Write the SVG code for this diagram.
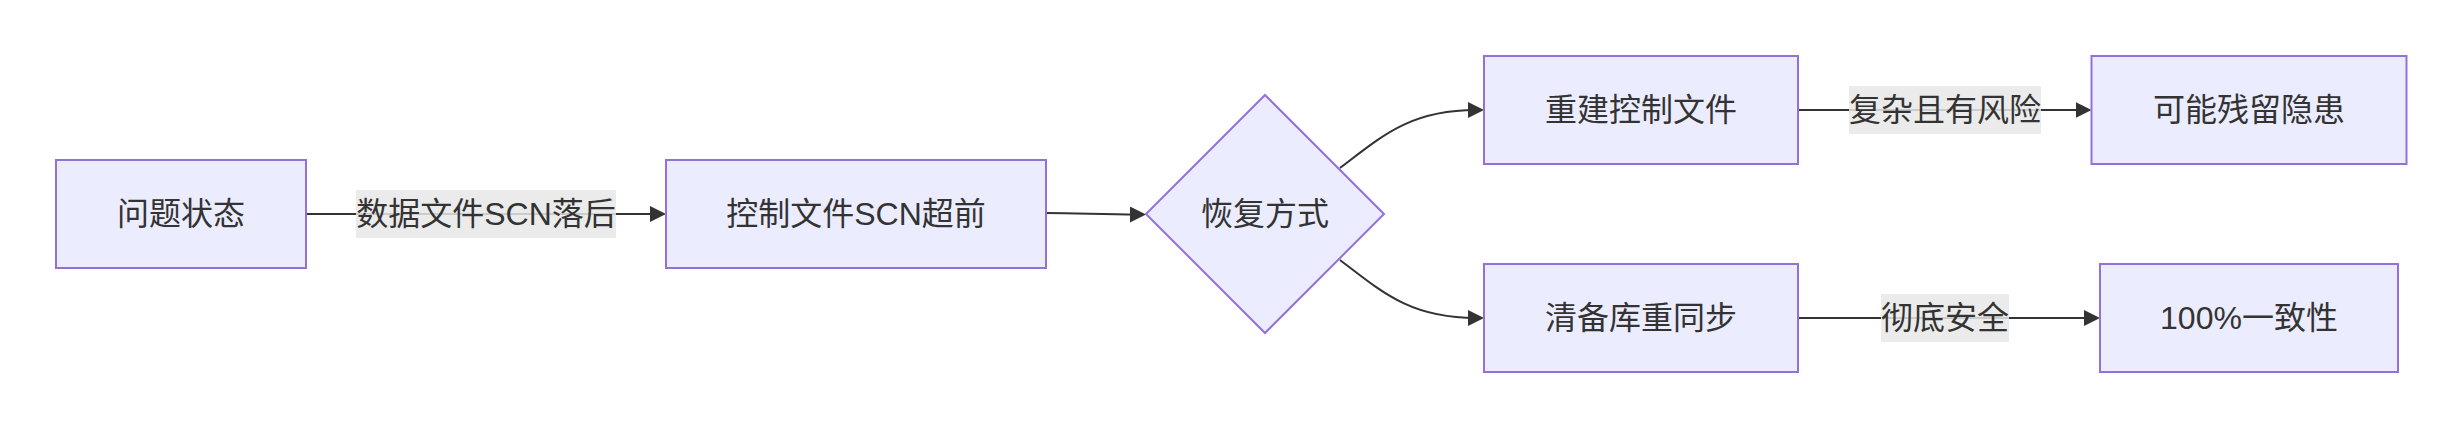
<svg xmlns="http://www.w3.org/2000/svg" width="2462" height="428" viewBox="0 0 2462 428">
  <style>
    .node rect, .node polygon { fill: #ECECFF; stroke: #9370DB; stroke-width: 2; }
    text { font-family: "Liberation Sans", "Noto Sans CJK SC", sans-serif; font-size: 32px; fill: #333333; text-anchor: middle; dominant-baseline: central; }
    .edge { fill: none; stroke: #333333; stroke-width: 2; marker-end: url(#arrow); }
    .lblbg { fill: #e8e8e8; fill-opacity: 0.85; }
  </style>
  <defs>
    <marker id="arrow" viewBox="0 0 10 10" refX="5" refY="5" markerUnits="userSpaceOnUse" markerWidth="16" markerHeight="16" orient="auto">
      <path d="M0,0 L10,5 L0,10 z" fill="#333333"/>
    </marker>
  </defs>
  <rect x="0" y="0" width="2462" height="428" fill="#ffffff"/>

  <g id="connectors">
    <path class="edge" d="M306,214 L658,214"/>
    <path class="edge" d="M1046,213 C1080,213 1100,214.5 1138,214.5"/>
    <path class="edge" d="M1340,168 C1382,136 1410,110 1476,110"/>
    <path class="edge" d="M1340,260 C1382,292 1410,318 1476,318"/>
    <path class="edge" d="M1798,110 L2083.5,110"/>
    <path class="edge" d="M1798,318 L2092,318"/>
    <g id="label-a-b">
      <rect class="lblbg" x="356" y="190" width="260" height="48"/>
      <text x="486" y="214">数据文件SCN落后</text>
    </g>
    <g id="label-d-f">
      <rect class="lblbg" x="1849" y="86" width="192" height="48"/>
      <text x="1945" y="110">复杂且有风险</text>
    </g>
    <g id="label-e-g">
      <rect class="lblbg" x="1881" y="294" width="128" height="48"/>
      <text x="1945" y="318">彻底安全</text>
    </g>
  </g>

  <g id="node-problem" class="node">
    <rect x="56" y="160" width="250" height="108"/>
    <text x="181" y="214">问题状态</text>
  </g>
  <g id="node-control" class="node">
    <rect x="666" y="160" width="380" height="108"/>
    <text x="856" y="214">控制文件SCN超前</text>
  </g>
  <g id="node-recovery" class="node">
    <polygon points="1265,95 1384,214 1265,333 1146,214"/>
    <text x="1265" y="214">恢复方式</text>
  </g>
  <g id="node-rebuild" class="node">
    <rect x="1484" y="56" width="314" height="108"/>
    <text x="1641" y="110">重建控制文件</text>
  </g>
  <g id="node-resync" class="node">
    <rect x="1484" y="264" width="314" height="108"/>
    <text x="1641" y="318">清备库重同步</text>
  </g>
  <g id="node-risk" class="node">
    <rect x="2091.5" y="56" width="315" height="108"/>
    <text x="2249" y="110">可能残留隐患</text>
  </g>
  <g id="node-consistent" class="node">
    <rect x="2100" y="264" width="298" height="108"/>
    <text x="2249" y="318">100%一致性</text>
  </g>
</svg>
